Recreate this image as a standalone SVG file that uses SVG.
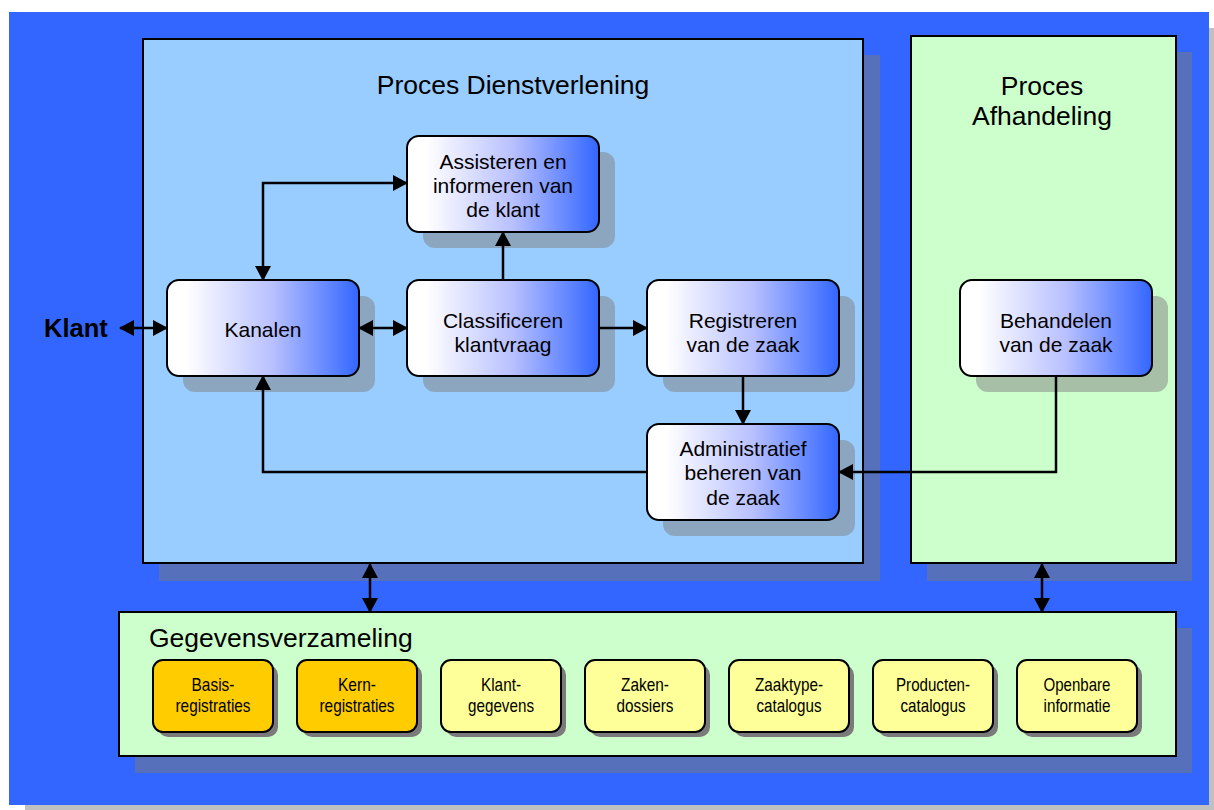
<svg xmlns="http://www.w3.org/2000/svg" width="1214" height="810" viewBox="0 0 1214 810">
<style>
.panel{stroke:#000;stroke-width:2}
.pshadow{fill:#5670BB}
.node{fill:url(#grad);stroke:#000;stroke-width:2}
.nshadow{fill:#808080;fill-opacity:0.5}
.store{stroke:#000;stroke-width:2}
.sshadow{fill:#7A7A7A}
.t{font-family:"Liberation Sans",Arial,sans-serif;font-size:21px;fill:#000;text-anchor:middle}
.title{font-family:"Liberation Sans",Arial,sans-serif;font-size:26.5px;fill:#000}
.st{font-family:"Liberation Sans",Arial,sans-serif;font-size:19px;fill:#000;text-anchor:middle}
.con{fill:none;stroke:#000;stroke-width:2.5}
</style>
<defs>
<linearGradient id="grad" x1="0" y1="0" x2="1" y2="0">
<stop offset="0" stop-color="#FFFFFF"/>
<stop offset="0.1" stop-color="#FFFFFF"/>
<stop offset="0.55" stop-color="#B8C0FF"/>
<stop offset="1" stop-color="#3366FF"/>
</linearGradient>
<marker id="arr" markerUnits="userSpaceOnUse" viewBox="0 0 15 16" markerWidth="15" markerHeight="16" refX="14" refY="8" orient="auto-start-reverse">
<path d="M0,0 L15,8 L0,16 z" fill="#000"/>
</marker>
</defs>
<rect x="25" y="28" width="1189" height="782" fill="#C0C0C0"/>
<rect x="9" y="12" width="1200" height="793" fill="#3366FF"/>

<g id="proces-dienstverlening">
<rect class="pshadow" x="159" y="55" width="721" height="526"/>
<rect class="panel" x="143" y="39" width="720" height="524" fill="#99CCFF"/>
<text class="title" x="513" y="94" text-anchor="middle">Proces Dienstverlening</text>
</g>
<g id="proces-afhandeling">
<rect class="pshadow" x="927" y="52" width="265" height="529"/>
<rect class="panel" x="911" y="36" width="265" height="527" fill="#CCFFCC"/>
<text class="title" x="1042" y="95" text-anchor="middle">Proces</text>
<text class="title" x="1042" y="125" text-anchor="middle">Afhandeling</text>
</g>
<g id="gegevensverzameling">
<rect class="pshadow" x="135" y="628" width="1057" height="145"/>
<rect class="panel" x="119" y="612" width="1057" height="144" fill="#CCFFCC"/>
<text class="title" x="149" y="647">Gegevensverzameling</text>
</g>

<g id="klant">
<text x="44" y="337" font-family="Liberation Sans,Arial,sans-serif" font-size="25.5" font-weight="bold">Klant</text>
</g>

<g id="kanalen">
<rect class="nshadow" x="183" y="296" width="192" height="96" rx="12"/>
<rect class="node" x="167" y="280" width="192" height="96" rx="12"/>
<text class="t" x="263" y="337">Kanalen</text>
</g>
<g id="assisteren">
<rect class="nshadow" x="423" y="152" width="192" height="96" rx="12"/>
<rect class="node" x="407" y="136" width="192" height="96" rx="12"/>
<text class="t" x="503" y="169">Assisteren en</text>
<text class="t" x="503" y="193">informeren van</text>
<text class="t" x="503" y="217">de klant</text>
</g>
<g id="classificeren">
<rect class="nshadow" x="423" y="296" width="192" height="96" rx="12"/>
<rect class="node" x="407" y="280" width="192" height="96" rx="12"/>
<text class="t" x="503" y="328">Classificeren</text>
<text class="t" x="503" y="352">klantvraag</text>
</g>
<g id="registreren">
<rect class="nshadow" x="663" y="296" width="192" height="96" rx="12"/>
<rect class="node" x="647" y="280" width="192" height="96" rx="12"/>
<text class="t" x="743" y="328">Registreren</text>
<text class="t" x="743" y="352">van de zaak</text>
</g>
<g id="administratief">
<rect class="nshadow" x="663" y="440" width="192" height="96" rx="12"/>
<rect class="node" x="647" y="424" width="192" height="96" rx="12"/>
<text class="t" x="743" y="456">Administratief</text>
<text class="t" x="743" y="480">beheren van</text>
<text class="t" x="743" y="505">de zaak</text>
</g>
<g id="behandelen">
<rect class="nshadow" x="976" y="296" width="192" height="96" rx="12"/>
<rect class="node" x="960" y="280" width="192" height="96" rx="12"/>
<text class="t" x="1056" y="328">Behandelen</text>
<text class="t" x="1056" y="352">van de zaak</text>
</g>

<g id="basisregistraties">
<rect class="sshadow" x="158" y="665" width="120" height="72" rx="10"/>
<rect class="store" x="153" y="660" width="120" height="72" rx="10" fill="#FFCC00"/>
<text class="st" x="213" y="691" textLength="43" lengthAdjust="spacingAndGlyphs">Basis-</text>
<text class="st" x="213" y="712" textLength="75" lengthAdjust="spacingAndGlyphs">registraties</text>
</g>
<g id="kernregistraties">
<rect class="sshadow" x="302" y="665" width="120" height="72" rx="10"/>
<rect class="store" x="297" y="660" width="120" height="72" rx="10" fill="#FFCC00"/>
<text class="st" x="357" y="691" textLength="38" lengthAdjust="spacingAndGlyphs">Kern-</text>
<text class="st" x="357" y="712" textLength="75" lengthAdjust="spacingAndGlyphs">registraties</text>
</g>
<g id="klantgegevens">
<rect class="sshadow" x="446" y="665" width="120" height="72" rx="10"/>
<rect class="store" x="441" y="660" width="120" height="72" rx="10" fill="#FFFF99"/>
<text class="st" x="501" y="691" textLength="40" lengthAdjust="spacingAndGlyphs">Klant-</text>
<text class="st" x="501" y="712" textLength="66" lengthAdjust="spacingAndGlyphs">gegevens</text>
</g>
<g id="zakendossiers">
<rect class="sshadow" x="590" y="665" width="120" height="72" rx="10"/>
<rect class="store" x="585" y="660" width="120" height="72" rx="10" fill="#FFFF99"/>
<text class="st" x="645" y="691" textLength="48" lengthAdjust="spacingAndGlyphs">Zaken-</text>
<text class="st" x="645" y="712" textLength="57" lengthAdjust="spacingAndGlyphs">dossiers</text>
</g>
<g id="zaaktypecatalogus">
<rect class="sshadow" x="734" y="665" width="120" height="72" rx="10"/>
<rect class="store" x="729" y="660" width="120" height="72" rx="10" fill="#FFFF99"/>
<text class="st" x="789" y="691" textLength="68" lengthAdjust="spacingAndGlyphs">Zaaktype-</text>
<text class="st" x="789" y="712" textLength="65" lengthAdjust="spacingAndGlyphs">catalogus</text>
</g>
<g id="productencatalogus">
<rect class="sshadow" x="878" y="665" width="120" height="72" rx="10"/>
<rect class="store" x="873" y="660" width="120" height="72" rx="10" fill="#FFFF99"/>
<text class="st" x="933" y="691" textLength="74" lengthAdjust="spacingAndGlyphs">Producten-</text>
<text class="st" x="933" y="712" textLength="65" lengthAdjust="spacingAndGlyphs">catalogus</text>
</g>
<g id="openbareinformatie">
<rect class="sshadow" x="1022" y="665" width="120" height="72" rx="10"/>
<rect class="store" x="1017" y="660" width="120" height="72" rx="10" fill="#FFFF99"/>
<text class="st" x="1077" y="691" textLength="67" lengthAdjust="spacingAndGlyphs">Openbare</text>
<text class="st" x="1077" y="712" textLength="67" lengthAdjust="spacingAndGlyphs">informatie</text>
</g>

<g id="connectors">
<path class="con" d="M120,328 H167" marker-start="url(#arr)" marker-end="url(#arr)"/>
<path class="con" d="M359,328 H407" marker-start="url(#arr)" marker-end="url(#arr)"/>
<path class="con" d="M599,328 H647" marker-end="url(#arr)"/>
<path class="con" d="M503,280 V232" marker-end="url(#arr)"/>
<path class="con" d="M263,280 V183 H407" marker-start="url(#arr)" marker-end="url(#arr)"/>
<path class="con" d="M743,376 V424" marker-end="url(#arr)"/>
<path class="con" d="M647,472 H263 V376" marker-end="url(#arr)"/>
<path class="con" d="M1056,376 V472 H839" marker-end="url(#arr)"/>
<path class="con" d="M370,564 V612" marker-start="url(#arr)" marker-end="url(#arr)"/>
<path class="con" d="M1042,564 V612" marker-start="url(#arr)" marker-end="url(#arr)"/>
</g>
</svg>
